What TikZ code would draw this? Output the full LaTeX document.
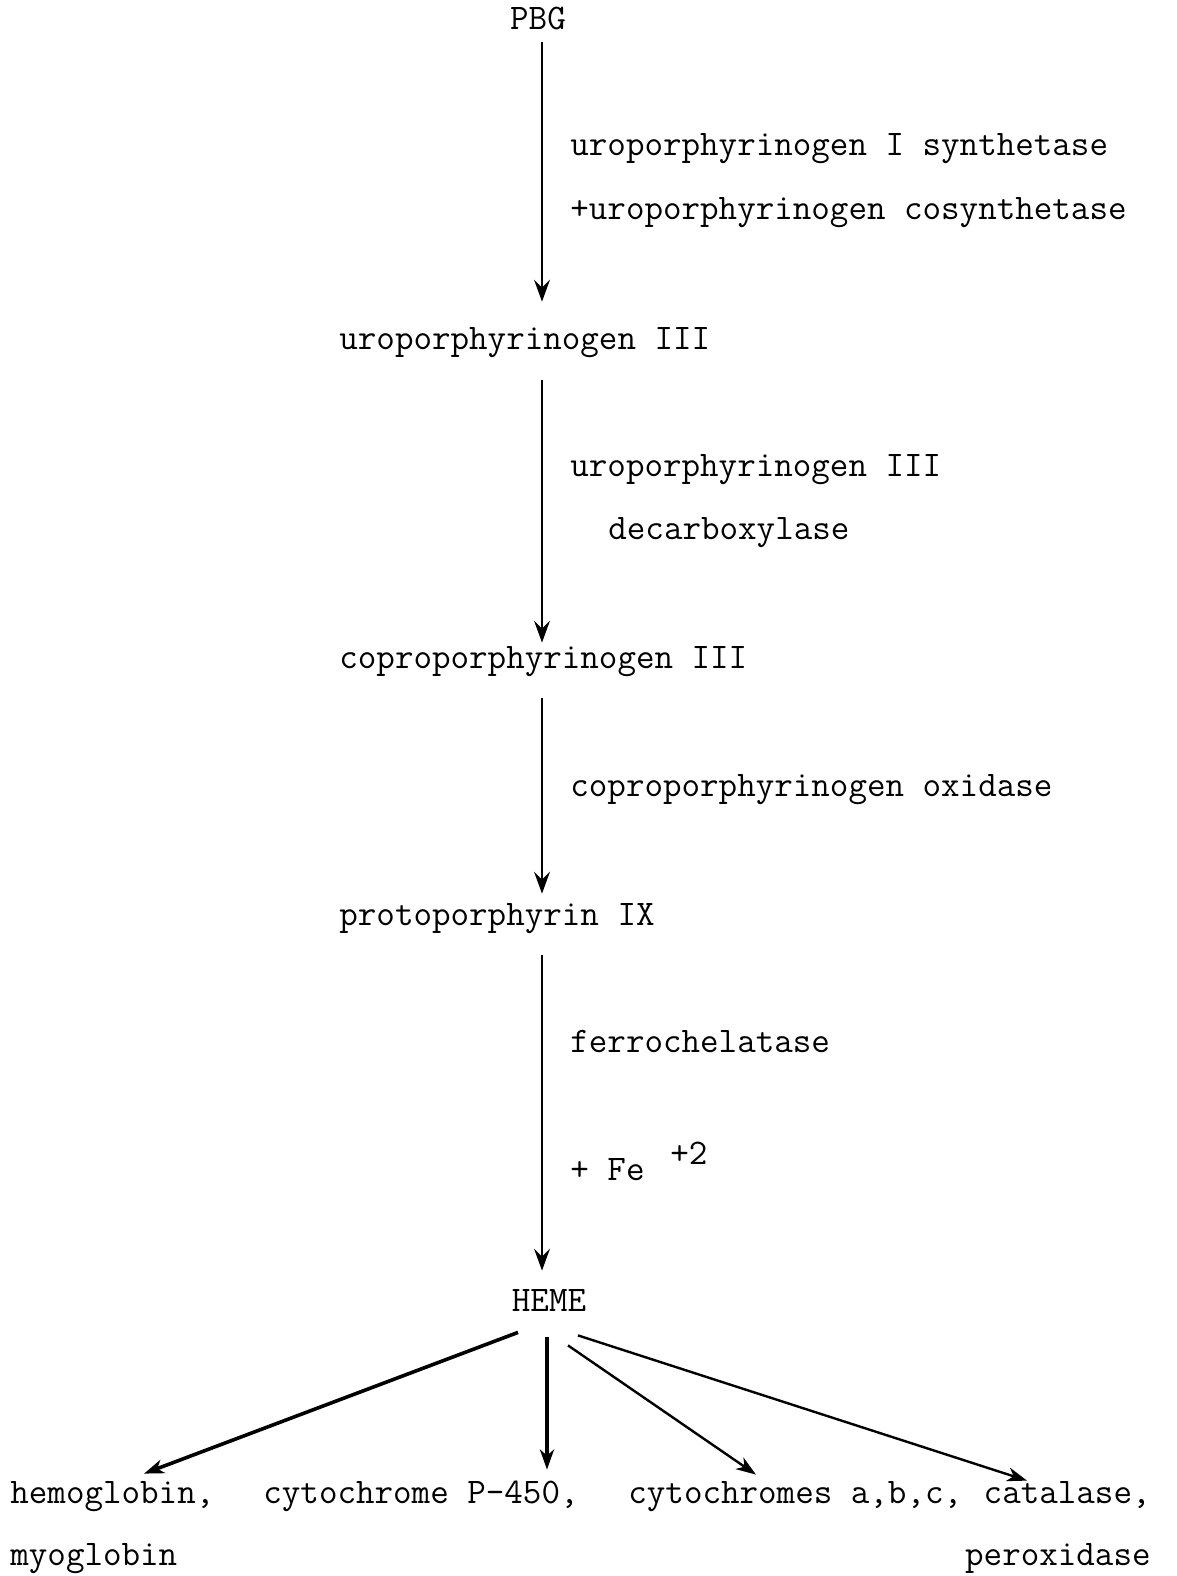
\documentclass[tikz,border=0pt]{standalone}
\usetikzlibrary{arrows.meta,calc}
\begin{document}
\begin{tikzpicture}[x=0.5pt,y=-0.5pt,
  lbl/.style={inner sep=0pt, font=\fontsize{18}{22}\selectfont\ttfamily, text height=9pt, text depth=3pt},
  varr/.style={line width=1pt, -{Stealth[length=11pt,width=8pt,inset=4pt]}},
  barr/.style={line width=1.8pt, -{Stealth[length=10pt,width=7pt,inset=3pt]}},
  tarr/.style={line width=1.2pt, -{Stealth[length=10pt,width=7pt,inset=3pt]}}]
\useasboundingbox (0,0) rectangle (1177,1576);
\coordinate (ax) at (542,0);
% main chain
\node[lbl, anchor=base] (pbg) at (538,29) {PBG};
\node[lbl, anchor=base west] (uro) at (339,349) {uroporphyrinogen III};
\node[lbl, anchor=base west] (copro) at (339,668) {coproporphyrinogen III};
\node[lbl, anchor=base west] (proto) at (339,925) {protoporphyrin IX};
\node[lbl, anchor=base] (heme) at (549,1311) {HEME};
% enzyme labels
\node[lbl, anchor=base west] (e1a) at (570,155) {uroporphyrinogen I synthetase};
\node[lbl, anchor=base west] (e1b) at (570,219) {+uroporphyrinogen cosynthetase};
\node[lbl, anchor=base west] (e2a) at (570,476) {uroporphyrinogen III};
\node[lbl, anchor=base west] (e2b) at (608,539) {decarboxylase};
\node[lbl, anchor=base west] (e3) at (570,796) {coproporphyrinogen oxidase};
\node[lbl, anchor=base west] (e4a) at (570,1052) {ferrochelatase};
\node[lbl, anchor=base west] (e4b) at (570,1180) {+ Fe};
\node[lbl, anchor=base west] (e4c) at (670,1164) {+2};
% products
\node[lbl, anchor=base west] (hemo) at (10,1503) {hemoglobin,};
\node[lbl, anchor=base west] (myo) at (10,1565) {myoglobin};
\node[lbl, anchor=base west] (p450) at (263,1503) {cytochrome P-450,};
\node[lbl, anchor=base west] (cyt) at (628,1503) {cytochromes a,b,c,};
\node[lbl, anchor=base east] (cat) at (1151,1503) {catalase,};
\node[lbl, anchor=base east] (perox) at (1151,1565) {peroxidase};
% vertical arrows
\draw[varr, shorten <=3.5pt, shorten >=14.5pt] (pbg.south -| ax) -- (uro.north -| ax);
\draw[varr, shorten <=12.5pt, shorten >=3.5pt] (uro.south -| ax) -- (copro.north -| ax);
\draw[varr, shorten <=12pt, shorten >=6.5pt] (copro.south -| ax) -- (proto.north -| ax);
\draw[varr, shorten <=12pt, shorten >=11pt] (proto.south -| ax) -- (heme.north -| ax);
% heme branches
\draw[barr] ([shift={(-31,15)}]heme.south) -- ([shift={(134,-11)}]hemo.north west);
\draw[barr] ([shift={(-2,20)}]heme.south) -- ([shift={(284,-15)}]p450.north west);
\draw[tarr] ([shift={(19,28)}]heme.south) -- ([shift={(128,-10)}]cyt.north west);
\draw[tarr] ([shift={(29,18)}]heme.south) -- ([shift={(-124,-4)}]cat.north east);
\end{tikzpicture}
\end{document}
